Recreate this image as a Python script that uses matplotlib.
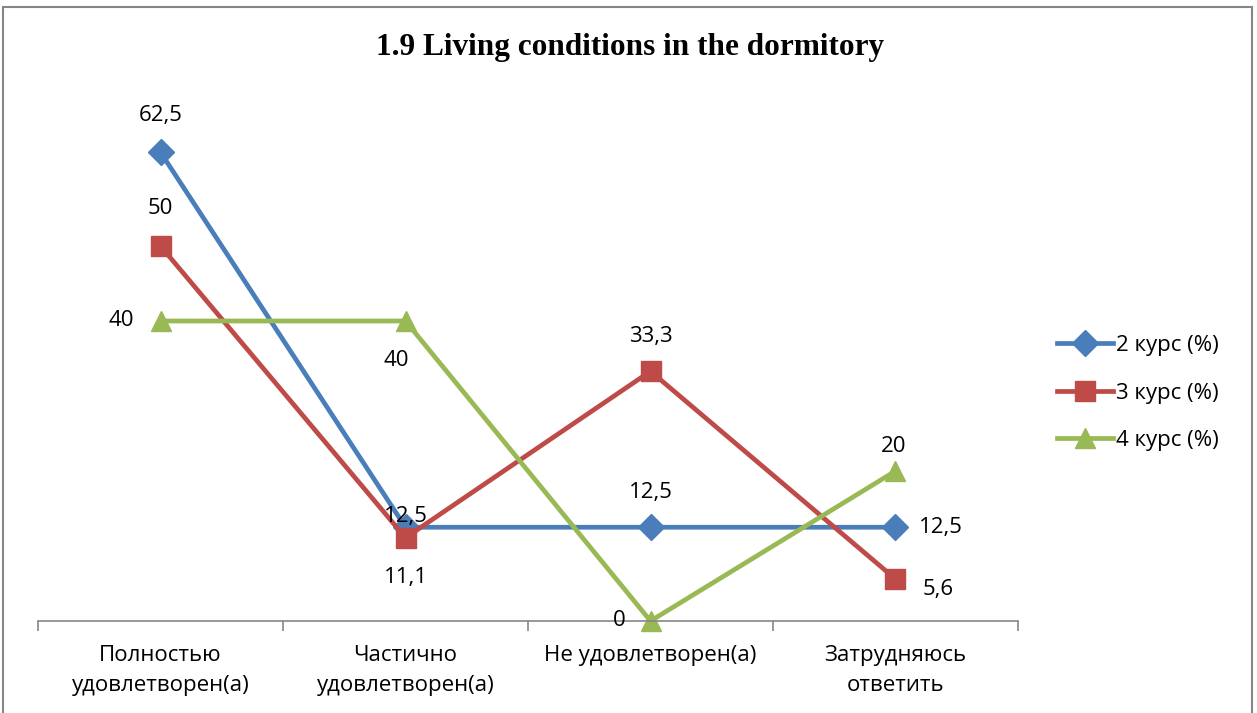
import matplotlib.pyplot as plt
from matplotlib.patches import Rectangle

# данные
categories = ['Полностью\nудовлетворен(а)', 'Частично\nудовлетворен(а)',
              'Не удовлетворен(а)', 'Затрудняюсь\nответить']
kurs2 = [62.5, 12.5, 12.5, 12.5]
kurs3 = [50, 11.1, 33.3, 5.6]
kurs4 = [40, 40, 0, 20]
names = ['2 курс (%)', '3 курс (%)', '4 курс (%)']

plt.rcParams['font.family'] = ['Open Sans', 'DejaVu Sans']
FS = 16

fig = plt.figure(figsize=(12.57, 7.13), dpi=100)
ax = fig.add_axes([38/1257, 92/713, 980/1257, 525/713])

x = range(len(categories))
l2, = ax.plot(x, kurs2, color='#4a7ebb', lw=3.4, marker='D', ms=13, label=names[0])
l3, = ax.plot(x, kurs3, color='#be4b48', lw=3.4, marker='s', ms=14, label=names[1])
l4, = ax.plot(x, kurs4, color='#98b954', lw=3.4, marker='^', ms=15, label=names[2])

def fmt(v):
    return ('%g' % v).replace('.', ',')

# подписи данных: (dx, dy) в пикселях
off2 = [(0, 37), (0, 11), (0, 35), (45, 0)]
off3 = [(0, 38), (0, -40), (0, 35), (43, -10)]
off4 = [(-39, 0), (-9, -39), (-31, 1), (-2, 24)]
for vals, offs in [(kurs2, off2), (kurs3, off3), (kurs4, off4)]:
    for i, v in enumerate(vals):
        ax.annotate(fmt(v), (i, v), xytext=offs[i], textcoords='offset pixels',
                    ha='center', va='center', fontsize=FS)

ax.set_xlim(-0.5, 3.5)
ax.set_ylim(0, 70)
ax.set_yticks([])
for s in ['top', 'right', 'left']:
    ax.spines[s].set_visible(False)
ax.spines['bottom'].set_color('#868686')
ax.spines['bottom'].set_linewidth(1.2)
ax.set_xticks([-0.5, 0.5, 1.5, 2.5, 3.5])
ax.set_xticklabels([])
ax.tick_params(axis='x', which='major', length=7, color='#868686', width=1.2)
ax.set_xticks(list(x), minor=True)
ax.set_xticklabels(categories, minor=True, fontsize=FS, linespacing=1.6)
ax.tick_params(axis='x', which='minor', length=0, pad=17)
for lab in ax.get_xticklabels(minor=True):
    lab.set_verticalalignment('top')

for line in ax.get_lines():
    line.set_clip_on(False)

fig.legend(handles=[l2, l3, l4], loc='center left', bbox_to_anchor=(1057/1257, 1 - 393/713),
           frameon=False, fontsize=FS, handlelength=2.5, handletextpad=0.15,
           labelspacing=1.2, borderaxespad=0, borderpad=0)

fig.text(630/1257, 1 - 48/713, '1.9 Living conditions in the dormitory',
         ha='center', va='center', fontsize=22.5, fontweight='bold',
         family=['Liberation Serif', 'DejaVu Serif'])

fig.patches.append(Rectangle((3/1257, -0.05), 1249/1257, 1.05 - 7/713,
                             transform=fig.transFigure, fill=False,
                             edgecolor='#868686', lw=1.5))

fig.savefig('out.png', dpi=100)
